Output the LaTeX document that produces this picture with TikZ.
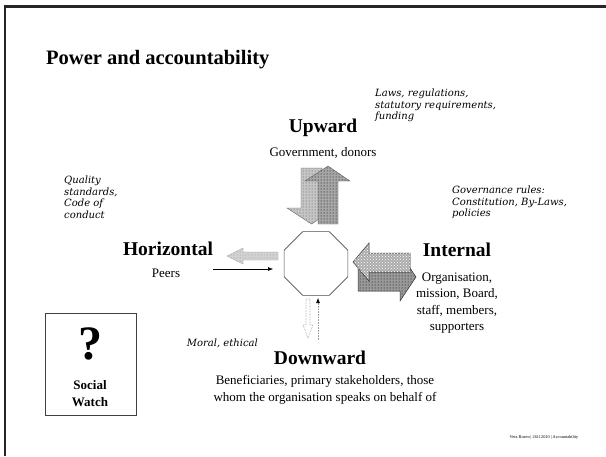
\documentclass[tikz,border=0pt]{standalone}
\usepackage{fontspec}
\setmainfont{Liberation Serif}
\newfontfamily\hand{DejaVu Serif}
\usetikzlibrary{patterns,arrows.meta,shapes.geometric}
\begin{document}
\begin{tikzpicture}[x=1pt,y=-1pt,
  heading/.style={font=\fontsize{19.5}{22}\selectfont\bfseries, inner sep=0},
  sub/.style={font=\fontsize{13}{16.5}\selectfont, align=center, inner sep=0},
  note/.style={font=\hand\itshape\fontsize{10}{11.4}\selectfont, align=left, inner sep=0, anchor=north west},
  downfill/.style={draw=black!60, line width=0.4pt, fill=gray!45, postaction={pattern=dots, pattern color=black!70}},
  upfill/.style={draw=black!60, line width=0.4pt, fill=gray!70, postaction={pattern=dots, pattern color=black}},
  lightfill/.style={draw=gray!70, line width=0.4pt, fill=gray!35, postaction={pattern=dots, pattern color=gray!80}},
  checkfill/.style={draw=black!80, line width=0.5pt, fill=gray!65, postaction={pattern=crosshatch dots, pattern color=white}},
  darkfill/.style={draw=black!80, line width=0.5pt, fill=gray!80, postaction={pattern=dots, pattern color=black}},
  thin arrow/.style={line width=0.5pt, -{Latex[length=5pt,width=4pt]}}
]
\useasboundingbox (0,0) rectangle (606,456);
\fill[white] (0,0) rectangle (606,456);
% slide frame
\draw[line width=2.5pt, black!85] (5,456) -- (5,6.5) -- (606,6.5);

% title
\node[font=\fontsize{20.5}{22}\selectfont\bfseries, anchor=west, inner sep=0] (title) at (46,60) {Power and accountability};

% centre octagon
\node[draw=black!70, line width=0.7pt, regular polygon, regular polygon sides=8, minimum size=69pt, inner sep=0] (oct) at (316,263.5) {};

% Upward
\node[heading] (up) at (323,128) {Upward};
\node[sub] (gov) at (323,153) {Government, donors};
\node[note] (laws) at (375,89) {Laws, regulations,\\statutory requirements,\\funding};
\filldraw[downfill] (301,168) -- (322,168) -- (322,208) -- (336,208) -- (311.5,224) -- (287,208) -- (301,208) -- cycle;
\filldraw[upfill] (318,224) -- (338,224) -- (338,181) -- (350,181) -- (328,166) -- (305,181) -- (318,181) -- cycle;

% Horizontal
\node[note] (quality) at (64,176) {Quality\\standards,\\Code of\\conduct};
\node[heading] (hor) at (168,249) {Horizontal};
\node[sub] (peers) at (166,273) {Peers};
\filldraw[lightfill] (278,252) -- (243,252) -- (243,248) -- (227,256) -- (243,264) -- (243,260) -- (278,260) -- cycle;
\coordinate (pstart) at (213,269);
\coordinate (pend) at (273,269);
\draw[thin arrow] (pstart) -- (pend);

% Internal
\node[note] (gover) at (452,186) {Governance rules:\\Constitution, By-Laws,\\policies};
\node[heading] (int) at (457,250) {Internal};
\node[sub] (org) at (457,303) {Organisation,\\mission, Board,\\staff, members,\\supporters};
\filldraw[darkfill] (358,263) -- (400,263) -- (400,253) -- (416,277) -- (400,301) -- (400,291) -- (358,291) -- cycle;
\filldraw[checkfill] (410,253) -- (369,253) -- (369,243) -- (353,262) -- (369,281) -- (369,272) -- (410,272) -- cycle;

% Downward
\draw[gray!80, densely dotted, line width=0.6pt] (306,299) -- (310,299) -- (310,325) -- (313,325) -- (308,338) -- (303,325) -- (306,325) -- cycle;
\coordinate (dstart) at (318,340);
\coordinate (dend) at (318,298);
\draw[gray!80, densely dotted, line width=0.6pt, -{Latex[length=5pt,width=4pt,black]}] (dstart) -- (dend);
\node[note, anchor=east] (moral) at (258,343) {Moral, ethical};
\node[heading] (down) at (320,358) {Downward};
\node[sub] (benef) at (325,390) {Beneficiaries, primary stakeholders, those\\whom the organisation speaks on behalf of};

% Social Watch box
\node[draw=black!75, line width=0.6pt, minimum width=91pt, minimum height=102pt, inner sep=0] (sw) at (90.5,364) {};
\node[font=\fontsize{48}{50}\selectfont\bfseries, inner sep=0] (q) at (90,344) {?};
\node[font=\fontsize{13}{17}\selectfont\bfseries, align=center, inner sep=0] (swt) at (90,394) {Social\\Watch};

% footer
\node[font=\fontsize{4.3}{5}\selectfont, inner sep=0] (foot) at (544,437) {Vera Rozen | 26112010 | Accountability};
\end{tikzpicture}
\end{document}
